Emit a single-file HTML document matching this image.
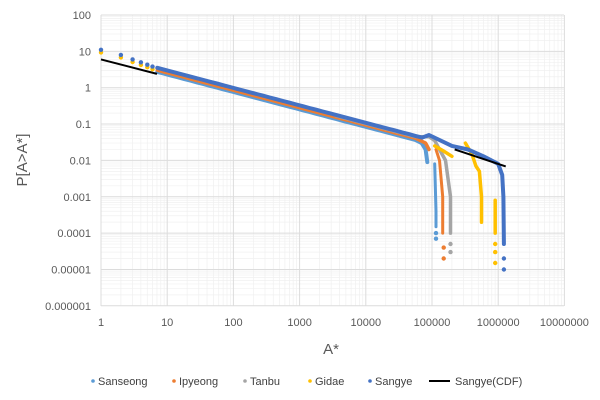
<!DOCTYPE html>
<html><head><meta charset="utf-8"><style>
html,body{margin:0;padding:0;background:#fff;}
svg{display:block;font-family:"Liberation Sans",sans-serif;}
</style></head><body>
<svg id="s" width="600" height="400" viewBox="0 0 600 400"></svg>
<script>
const s=document.getElementById('s');
const X0=101,DX=66.2,Y0=15,DY=36.35;
const px=x=>X0+DX*Math.log10(x), py=p=>Y0+DY*(2-Math.log10(p));
let h='';
// minor grid
for(let d=0;d<7;d++)for(let k=2;k<10;k++){const x=px(k*Math.pow(10,d));h+=`<line x1="${x}" y1="15" x2="${x}" y2="306" stroke="#f0f0f0" stroke-width="0.7"/>`;}
for(let d=-6;d<2;d++)for(let k=2;k<10;k++){const y=py(k*Math.pow(10,d));h+=`<line x1="101" y1="${y}" x2="564" y2="${y}" stroke="#f0f0f0" stroke-width="0.7"/>`;}
// major grid
for(let d=0;d<=7;d++){const x=px(Math.pow(10,d));h+=`<line x1="${x}" y1="15" x2="${x}" y2="306" stroke="#dcdcdc" stroke-width="1"/>`;
 h+=`<text x="${x}" y="326" font-size="11" fill="#595959" text-anchor="middle">${Math.pow(10,d)}</text>`;}
const yl=['100','10','1','0.1','0.01','0.001','0.0001','0.00001','0.000001'];
for(let i=0;i<=8;i++){const y=Y0+DY*i;h+=`<line x1="101" y1="${y}" x2="564" y2="${y}" stroke="#dcdcdc" stroke-width="1"/>`;
 h+=`<text x="91" y="${y+4}" font-size="11" fill="#595959" text-anchor="end">${yl[i]}</text>`;}
// series paths
function path(pts,c,w){return `<polyline points="${pts.map(p=>px(p[0]).toFixed(1)+','+py(p[1]).toFixed(1)).join(' ')}" fill="none" stroke="${c}" stroke-width="${w}" stroke-linejoin="round" stroke-linecap="round"/>`;}
function dots(pts,c){return pts.map(p=>`<circle cx="${px(p[0]).toFixed(1)}" cy="${py(p[1]).toFixed(1)}" r="2.2" fill="${c}"/>`).join('');}
const main=f=>{const a=[];for(let l=0.85;l<=4.9;l+=0.1)a.push([Math.pow(10,l),f*3.2*Math.pow(10,-0.48*(l-0.85))]);return a;};
// leading dots
const lead=[[1,11],[2,8],[3,6],[4,5],[5,4.3],[6,3.8]];
h+=dots(lead.map(p=>[p[0],p[1]*0.85]),'#FFC000')+dots(lead,'#4472C4');
// Sanseong
h+=path(main(0.85).filter(p=>p[0]<6e4).concat([[7e4,0.03],[8e4,0.02],[8.5e4,0.009]]),'#5B9BD5',4);
h+=path([[1.1e5,0.008],[1.15e5,0.0004],[1.15e5,0.00015]],'#5B9BD5',3)+dots([[1.15e5,0.0001],[1.15e5,0.00007]],'#5B9BD5');
// Ipyeong
h+=path(main(0.95).filter(p=>p[0]<7e4).concat([[8e4,0.03],[9e4,0.02]]),'#ED7D31',3.5);
h+=path([[1.15e5,0.02],[1.3e5,0.01],[1.45e5,0.001],[1.45e5,0.0001]],'#ED7D31',3)+dots([[1.5e5,0.00004],[1.5e5,0.00002]],'#ED7D31');
// Tanbu
h+=path(main(1.05).filter(p=>p[0]>3e3&&p[0]<6e4).concat([[9e4,0.045],[1.1e5,0.035],[1.3e5,0.02],[1.6e5,0.01],[1.9e5,0.001],[1.9e5,0.0001]]),'#A5A5A5',3.5)+dots([[1.9e5,0.00005],[1.9e5,0.00003]],'#A5A5A5');
// Gidae
h+=path([[1.1e5,0.025],[1.5e5,0.018],[2e5,0.013]],'#FFC000',3.5);
h+=path([[3.2e5,0.03],[4e5,0.015],[4.6e5,0.007],[5.2e5,0.005],[5.6e5,0.001],[5.6e5,0.0002]],'#FFC000',3.5);
h+=path([[9e5,0.0008],[9e5,0.0001]],'#FFC000',3.5)+dots([[9e5,0.00005],[9e5,0.00003],[9e5,0.000015]],'#FFC000');
// Sangye
h+=path(main(1.1).filter(p=>p[0]>7).concat([[9e4,0.05],[2e5,0.025],[3.5e5,0.02],[6e5,0.013],[1e6,0.008],[1.15e6,0.004],[1.2e6,0.001],[1.22e6,0.00005]]),'#4472C4',4)+dots([[1.22e6,0.00002],[1.22e6,0.00001]],'#4472C4');
// black CDF
h+=`<line x1="${px(1)}" y1="${py(6)}" x2="${px(7)}" y2="${py(2.4)}" stroke="#000" stroke-width="2"/>`;
h+=`<line x1="${px(2.2e5)}" y1="${py(0.02)}" x2="${px(1.3e6)}" y2="${py(0.0068)}" stroke="#000" stroke-width="2"/>`;
// axis titles
h+=`<text x="331" y="354" font-size="15" fill="#595959" text-anchor="middle">A*</text>`;
h+=`<text transform="translate(27,160) rotate(-90)" font-size="15" fill="#595959" text-anchor="middle">P[A&gt;A*]</text>`;
// legend
const lg=[['Sanseong','#5B9BD5',93],['Ipyeong','#ED7D31',174],['Tanbu','#A5A5A5',245],['Gidae','#FFC000',310],['Sangye','#4472C4',370]];
lg.forEach(l=>{h+=`<circle cx="${l[2]}" cy="381" r="1.8" fill="${l[1]}"/><text x="${l[2]+5}" y="385" font-size="11" fill="#404040">${l[0]}</text>`;});
h+=`<line x1="429" y1="381" x2="450" y2="381" stroke="#000" stroke-width="2"/><text x="455" y="385" font-size="11" fill="#404040">Sangye(CDF)</text>`;
s.innerHTML=h;
</script>
</body></html>
